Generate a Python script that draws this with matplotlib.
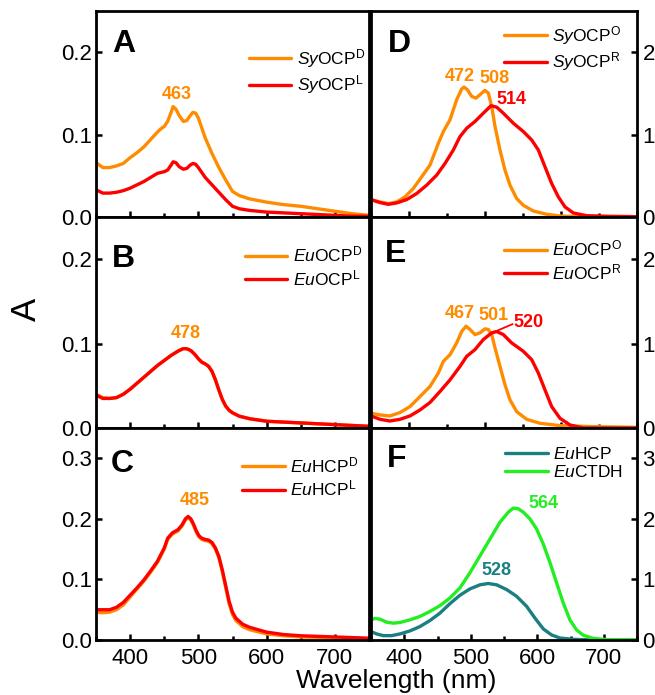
import matplotlib
matplotlib.use("Agg")
import matplotlib.pyplot as plt
from matplotlib import font_manager
from matplotlib.ticker import MultipleLocator, FormatStrFormatter

names = {f.name for f in font_manager.fontManager.ttflist}
SANS = 'Liberation Sans' if 'Liberation Sans' in names else 'DejaVu Sans'
NARROW = 'Liberation Sans Narrow' if 'Liberation Sans Narrow' in names else SANS

plt.rcParams['font.family'] = [SANS, 'DejaVu Sans']
plt.rcParams['mathtext.fontset'] = 'custom'
plt.rcParams['mathtext.rm'] = NARROW
plt.rcParams['mathtext.it'] = NARROW + ':italic'
plt.rcParams['mathtext.bf'] = NARROW + ':bold'

ORANGE = '#FF8C00'
RED = '#FF0000'
TEAL = '#1A7F80'
GREEN = '#22EE22'

# ---------------- data ----------------
# Panel A
A_wl = [350, 360, 370, 380, 390, 400, 410, 420, 430, 440, 445, 450, 455, 460, 463, 467, 472, 478,
        483, 488, 492, 496, 500, 505, 510, 520, 530, 540, 550, 560, 575, 600, 625, 650, 675, 700,
        725, 750]
A_D = [0.066, 0.060, 0.060, 0.062, 0.065, 0.072, 0.078, 0.085, 0.094, 0.103, 0.107, 0.110, 0.116,
       0.127, 0.134, 0.131, 0.123, 0.116, 0.117, 0.123, 0.127, 0.126, 0.120, 0.108, 0.096, 0.077,
       0.060, 0.045, 0.031, 0.026, 0.022, 0.018, 0.015, 0.013, 0.010, 0.007, 0.004, 0.002]
A_L = [0.033, 0.029, 0.029, 0.030, 0.032, 0.035, 0.039, 0.043, 0.048, 0.053, 0.054, 0.055, 0.057,
       0.063, 0.067, 0.066, 0.061, 0.058, 0.059, 0.063, 0.065, 0.064, 0.060, 0.054, 0.048, 0.039,
       0.030, 0.021, 0.013, 0.010, 0.008, 0.006, 0.005, 0.004, 0.003, 0.002, 0.001, 0.001]

# Panel B
B_wl = [350, 360, 370, 380, 390, 400, 410, 420, 430, 440, 450, 460, 470, 475, 478, 482, 486, 490,
        495, 500, 505, 510, 515, 520, 525, 530, 535, 540, 545, 550, 560, 575, 600, 625, 650, 700, 750]
B_D = [0.040, 0.036, 0.035, 0.036, 0.040, 0.046, 0.053, 0.060, 0.067, 0.074, 0.080, 0.086, 0.091,
       0.093, 0.094, 0.094, 0.093, 0.091, 0.087, 0.082, 0.078, 0.076, 0.073, 0.067, 0.057, 0.045,
       0.034, 0.026, 0.021, 0.018, 0.014, 0.011, 0.008, 0.007, 0.006, 0.004, 0.002]
B_L = [0.039, 0.035, 0.035, 0.036, 0.040, 0.046, 0.053, 0.060, 0.067, 0.074, 0.080, 0.086, 0.091,
       0.093, 0.094, 0.094, 0.093, 0.091, 0.087, 0.082, 0.078, 0.076, 0.073, 0.067, 0.057, 0.045,
       0.034, 0.026, 0.021, 0.018, 0.014, 0.011, 0.008, 0.007, 0.006, 0.004, 0.002]

# Panel C
C_wl = [350, 360, 370, 380, 390, 400, 410, 420, 430, 440, 450, 455, 462, 470, 476, 481, 485, 489,
        493, 497, 501, 505, 510, 515, 520, 525, 530, 535, 540, 545, 550, 555, 565, 575, 600, 625,
        650, 700, 750]
C_L = [0.050, 0.050, 0.050, 0.054, 0.062, 0.074, 0.086, 0.099, 0.114, 0.130, 0.152, 0.168, 0.177,
       0.182, 0.190, 0.200, 0.204, 0.200, 0.191, 0.180, 0.172, 0.168, 0.166, 0.165, 0.161, 0.152,
       0.138, 0.116, 0.090, 0.064, 0.046, 0.036, 0.026, 0.021, 0.013, 0.009, 0.007, 0.005, 0.003]
C_D = [0.046, 0.045, 0.046, 0.050, 0.058, 0.071, 0.084, 0.097, 0.112, 0.128, 0.150, 0.166, 0.175,
       0.180, 0.188, 0.198, 0.202, 0.198, 0.189, 0.178, 0.170, 0.166, 0.164, 0.163, 0.159, 0.150,
       0.136, 0.113, 0.087, 0.060, 0.042, 0.032, 0.022, 0.017, 0.010, 0.007, 0.005, 0.004, 0.002]

# Panel D
D_wl_O = [350, 361.8, 372.8, 383.8, 394.7, 405.7, 416.7, 427.6, 438.6, 445.2, 453.9, 462.7, 469.3,
          472.4, 476.8, 482.5, 488.2, 493.4, 500.0, 504.4, 508.8, 513.2, 519.7, 526.3, 532.9, 541.7,
          550.4, 563.6, 581.1, 598.7, 642.5, 700]
D_O = [0.211, 0.183, 0.163, 0.183, 0.244, 0.346, 0.488, 0.630, 0.894, 1.037, 1.179, 1.423, 1.553,
       1.577, 1.545, 1.463, 1.443, 1.484, 1.537, 1.504, 1.341, 1.098, 0.813, 0.569, 0.386, 0.224,
       0.142, 0.073, 0.033, 0.012, 0.0, 0.0]
D_wl_R = [350, 361.8, 372.8, 383.8, 396.9, 410.1, 423.2, 436.4, 447.4, 458.3, 467.1, 475.9, 486.8,
          497.8, 507.9, 515.4, 524.1, 537.3, 550.4, 561.4, 570.2, 578.9, 587.7, 596.5, 605.3, 616.2,
          633.8, 664.5, 700]
D_R = [0.211, 0.175, 0.154, 0.171, 0.211, 0.285, 0.386, 0.508, 0.650, 0.813, 0.976, 1.077, 1.159,
       1.260, 1.350, 1.333, 1.260, 1.138, 1.037, 0.935, 0.813, 0.610, 0.407, 0.244, 0.122, 0.049,
       0.016, 0.008, 0.004]

# Panel E
E_wl_O = [350, 361.8, 375.0, 388.2, 401.3, 414.5, 427.6, 438.6, 445.2, 454.0, 462.7, 469.3, 475.0,
          480.3, 486.8, 493.4, 500.0, 504.4, 508.8, 513.2, 519.7, 526.3, 532.9, 541.7, 554.8, 572.4,
          598.7, 642.5, 700]
E_O = [0.175, 0.155, 0.143, 0.183, 0.254, 0.373, 0.492, 0.651, 0.790, 0.869, 1.008, 1.143, 1.206,
       1.167, 1.107, 1.127, 1.175, 1.167, 1.107, 0.948, 0.730, 0.512, 0.333, 0.194, 0.103, 0.056,
       0.028, 0.016, 0.008]
E_wl_R = [350, 361.8, 375.0, 388.2, 401.3, 414.5, 427.6, 440.8, 454.0, 467.1, 475.9, 486.8, 497.8,
          508.8, 515.4, 524.1, 535.1, 550.4, 561.4, 570.2, 578.9, 587.7, 598.7, 611.8, 629.4, 651.3,
          700]
E_R = [0.143, 0.103, 0.083, 0.103, 0.143, 0.214, 0.302, 0.433, 0.571, 0.730, 0.849, 0.929, 1.048,
       1.127, 1.143, 1.107, 1.008, 0.909, 0.810, 0.651, 0.452, 0.254, 0.115, 0.036, 0.0, 0.0, 0.0]

# Panel F
F_wl_H = [350, 358.5, 368.5, 381.0, 393.5, 408.5, 423.6, 438.7, 453.7, 468.7, 483.8, 498.8, 513.9,
          526.4, 538.9, 553.9, 568.9, 584.0, 596.6, 609.1, 621.6, 634.1, 654.2, 684.3, 750]
F_H = [0.139, 0.100, 0.072, 0.072, 0.100, 0.150, 0.222, 0.322, 0.444, 0.600, 0.739, 0.844, 0.911,
       0.933, 0.911, 0.833, 0.722, 0.556, 0.361, 0.183, 0.083, 0.033, 0.011, 0.0, 0.0]
F_wl_C = [350, 356, 363.5, 373.6, 383.6, 393.6, 408.6, 423.6, 438.7, 453.7, 468.7, 483.8, 498.8,
          513.9, 528.9, 543.9, 556.5, 564.0, 571.4, 579.0, 589.0, 599.0, 609.1, 619.1, 629.1, 639.1,
          649.1, 659.1, 669.2, 684.2, 704.3, 750]
F_C = [0.333, 0.356, 0.344, 0.294, 0.278, 0.289, 0.333, 0.389, 0.472, 0.567, 0.694, 0.861, 1.111,
       1.389, 1.667, 1.944, 2.111, 2.178, 2.167, 2.111, 2.000, 1.833, 1.583, 1.278, 0.944, 0.611,
       0.333, 0.167, 0.078, 0.028, 0.006, 0.0]

xticks_labels = [400, 500, 600, 700]

# ---------------- layout ----------------
W, H = 655, 695
fig = plt.figure(figsize=(W / 100, H / 100), dpi=100)


def ax_px(x0, x1, y0, y1):
    return fig.add_axes([x0 / W, 1 - y1 / H, (x1 - x0) / W, (y1 - y0) / H])


LX0, LX1, RX0, RX1 = 96, 369, 371, 637
rows = [(11, 217), (217, 428), (428, 640)]

axA = ax_px(LX0, LX1, *rows[0])
axB = ax_px(LX0, LX1, *rows[1])
axC = ax_px(LX0, LX1, *rows[2])
axD = ax_px(RX0, RX1, *rows[0])
axE = ax_px(RX0, RX1, *rows[1])
axF = ax_px(RX0, RX1, *rows[2])

LW = 2.4


def style(ax, right=False, xlim=(350, 750), ylim=(0, 0.25), ymaj=0.1, showx=False, fmt='%.1f'):
    ax.set_xlim(*xlim)
    ax.set_ylim(*ylim)
    for s in ax.spines.values():
        s.set_linewidth(2.0)
    ax.xaxis.set_major_locator(MultipleLocator(100))
    ax.xaxis.set_minor_locator(MultipleLocator(50))
    ax.yaxis.set_major_locator(MultipleLocator(ymaj))
    ax.yaxis.set_major_formatter(FormatStrFormatter(fmt))
    ax.tick_params(axis='both', which='major', direction='in', length=4, width=1.8,
                   labelsize=16, pad=4)
    ax.tick_params(axis='x', which='minor', direction='in', length=3, width=1.8)
    ax.tick_params(axis='x', which='both', top=False, labelbottom=showx, pad=6)
    if right:
        ax.yaxis.tick_right()
        ax.tick_params(axis='y', left=False, right=True, labelleft=False, labelright=True, pad=4)
    else:
        ax.tick_params(axis='y', right=False, pad=3)


style(axA)
style(axB)
style(axC, ylim=(0, 0.35), showx=True)
style(axD, right=True, xlim=(350, 700), ylim=(0, 2.5), ymaj=1, fmt='%d')
style(axE, right=True, xlim=(350, 700), ylim=(0, 2.5), ymaj=1, fmt='%d')
style(axF, right=True, ylim=(0, 3.5), ymaj=1, showx=True, fmt='%d')
axC.set_xticks(xticks_labels)
axF.set_xticks(xticks_labels)
axC.xaxis.set_major_formatter(FormatStrFormatter('%d'))
axF.xaxis.set_major_formatter(FormatStrFormatter('%d'))

kw = dict(lw=LW, solid_joinstyle='round', solid_capstyle='round')
axA.plot(A_wl, A_D, color=ORANGE, label=r'$\mathit{Sy}\mathrm{OCP}^{\mathrm{D}}$', **kw)
axA.plot(A_wl, A_L, color=RED, label=r'$\mathit{Sy}\mathrm{OCP}^{\mathrm{L}}$', **kw)
axB.plot(B_wl, B_D, color=ORANGE, label=r'$\mathit{Eu}\mathrm{OCP}^{\mathrm{D}}$', **kw)
axB.plot(B_wl, B_L, color=RED, label=r'$\mathit{Eu}\mathrm{OCP}^{\mathrm{L}}$', **kw)
axC.plot(C_wl, C_D, color=ORANGE, label=r'$\mathit{Eu}\mathrm{HCP}^{\mathrm{D}}$', **kw)
axC.plot(C_wl, C_L, color=RED, label=r'$\mathit{Eu}\mathrm{HCP}^{\mathrm{L}}$', **kw)
axD.plot(D_wl_O, D_O, color=ORANGE, label=r'$\mathit{Sy}\mathrm{OCP}^{\mathrm{O}}$', **kw)
axD.plot(D_wl_R, D_R, color=RED, label=r'$\mathit{Sy}\mathrm{OCP}^{\mathrm{R}}$', **kw)
axE.plot(E_wl_O, E_O, color=ORANGE, label=r'$\mathit{Eu}\mathrm{OCP}^{\mathrm{O}}$', **kw)
axE.plot(E_wl_R, E_R, color=RED, label=r'$\mathit{Eu}\mathrm{OCP}^{\mathrm{R}}$', **kw)
axF.plot(F_wl_H, F_H, color=TEAL, label=r'$\mathit{Eu}\mathrm{HCP}$', **kw)
axF.plot(F_wl_C, F_C, color=GREEN, label=r'$\mathit{Eu}\mathrm{CTDH}$', **kw)

# legends
leg_pos = {axA: (0.56, 0.825), axB: (0.545, 0.868), axC: (0.535, 0.87),
           axD: (0.50, 0.936), axE: (0.50, 0.896), axF: (0.505, 0.917)}
for ax, (lx, ly) in leg_pos.items():
    ax.legend(loc='upper left', bbox_to_anchor=(lx, ly), frameon=False, fontsize=12.5,
              handlelength=2.45, handletextpad=0.3,
              labelspacing=0.2 if ax is not axF else 0.12,
              borderpad=0, borderaxespad=0)

# panel letters
letters = {axA: ('A', 0.059, 0.84), axB: ('B', 0.059, 0.80), axC: ('C', 0.055, 0.83),
           axD: ('D', 0.064, 0.84), axE: ('E', 0.053, 0.825), axF: ('F', 0.06, 0.855)}
for ax, (t, x, y) in letters.items():
    ax.text(x, y, t, transform=ax.transAxes, fontsize=23, fontweight='bold',
            ha='left', va='center')

ann = dict(fontweight='bold', fontsize=13, family=[NARROW, SANS], ha='center', va='center')
axA.text(469, 0.149, '463', color=ORANGE, **ann)
axB.text(482, 0.112, '478', color=ORANGE, **ann)
axC.text(494, 0.23, '485', color=ORANGE, **ann)
axD.text(467, 1.70, '472', color=ORANGE, **ann)
axD.text(513, 1.68, '508', color=ORANGE, **ann)
axD.text(535, 1.43, '514', color=RED, **ann)
axE.text(467, 1.36, '467', color=ORANGE, **ann)
axE.text(511, 1.33, '501', color=ORANGE, **ann)
axE.plot([510, 536], [1.13, 1.23], color=RED, lw=1.3)
ann_l = dict(ann)
ann_l['ha'] = 'left'
axE.text(537, 1.25, '520', color=RED, **ann_l)
axF.text(539, 1.15, '528', color=TEAL, **ann)
axF.text(609, 2.25, '564', color=GREEN, **ann)

fig.text(26 / W, 1 - 309 / H, 'A', rotation=90, fontsize=25, ha='center', va='center')
fig.text(396 / W, 1 - 681 / H, 'Wavelength (nm)', fontsize=19, ha='center', va='center')

fig.savefig('out.png', dpi=100)
